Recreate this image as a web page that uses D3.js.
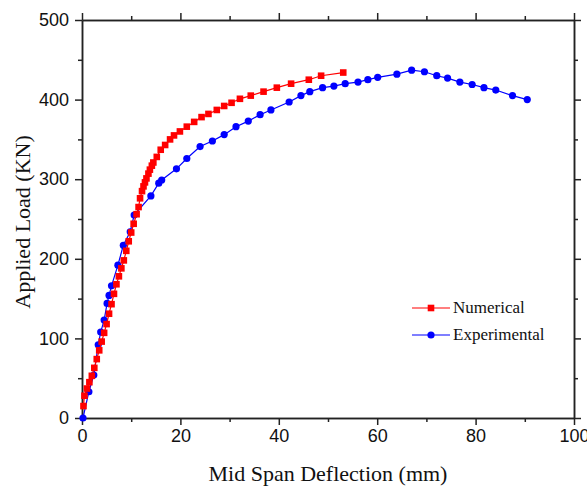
<!DOCTYPE html>
<head>
    <meta charset="utf-8">
    <script src="https://d3js.org/d3.v7.min.js"></script>
    <style>
        body { margin: 0; background: #fff; }
    </style>
</head>
<body>
<script>
    // Numerical (FE) curve: [deflection mm, load kN]
    const numerical = [
        [0.3, 15], [0.5, 28], [1.0, 37], [1.5, 45], [2.0, 53], [2.5, 63], [3.0, 74],
        [3.5, 85], [4.0, 96], [4.5, 107], [5.0, 118], [5.5, 131], [6.0, 143], [6.5, 156],
        [7.0, 168], [7.5, 178], [8.0, 188], [8.5, 198], [9.0, 210], [9.5, 222], [10.0, 233],
        [10.5, 244], [11.1, 256], [11.5, 265], [11.8, 276], [12.2, 285], [12.5, 291],
        [12.8, 296], [13.1, 301], [13.5, 307], [13.8, 312], [14.2, 317], [14.5, 321],
        [15.2, 328], [16.0, 337], [16.9, 343], [17.9, 350], [18.7, 355], [19.9, 360],
        [21.3, 366], [22.8, 372], [24.3, 378], [25.7, 382], [27.4, 387], [28.9, 392],
        [30.4, 396], [32.1, 401], [34.3, 405], [36.9, 410], [39.6, 415], [42.5, 420],
        [46.1, 425], [48.6, 430], [53.1, 434]
    ];

    // Experimental curve
    const experimental = [
        [0.2, 0], [1.4, 33], [2.4, 54], [3.3, 92], [3.8, 108], [4.5, 123], [5.1, 144],
        [5.5, 154], [6.0, 166], [7.3, 192], [8.4, 217], [9.8, 234], [10.6, 255], [14.0, 279],
        [15.6, 295], [16.2, 299], [19.2, 313], [21.3, 326], [24.0, 341], [26.5, 348],
        [28.9, 356], [31.3, 366], [33.8, 373], [36.2, 381], [38.4, 387], [42.1, 397],
        [44.5, 405], [46.3, 410], [48.9, 415], [51.2, 417], [53.5, 420], [56.1, 422],
        [58.1, 425], [60.1, 428], [64.0, 432], [67.0, 437], [69.6, 435], [72.1, 430],
        [74.3, 427], [76.8, 422], [79.3, 419], [81.7, 415], [84.1, 412], [87.5, 405],
        [90.5, 400]
    ];

    const xTicks = [0, 20, 40, 60, 80, 100];
    const yTicks = [0, 100, 200, 300, 400, 500];
    const xMinor = [10, 30, 50, 70, 90];
    const yMinor = [50, 150, 250, 350, 450];

    const width = 587, height = 486;
    const pLeft = 82, pRight = 574, pTop = 20, pBottom = 418;

    const x = d3.scaleLinear().domain([0, 100]).range([pLeft, pRight]);
    const y = d3.scaleLinear().domain([0, 500]).range([pBottom, pTop]);

    const svg = d3.select("body").append("svg")
        .attr("width", width)
        .attr("height", height);

    const axisColor = "#222";

    function styleAxis(g) {
        g.select(".domain").attr("stroke", axisColor).attr("stroke-width", 1.5);
        g.selectAll(".tick line").attr("stroke", axisColor).attr("stroke-width", 1.5);
        g.selectAll(".tick text")
            .attr("fill", "#111")
            .style("font-family", "Arial, 'Liberation Sans', sans-serif")
            .style("font-size", "18px");
    }

    // major + minor axes on all four sides
    svg.append("g").attr("transform", `translate(0,${pBottom})`)
        .call(d3.axisBottom(x).tickValues(xTicks).tickSize(7).tickPadding(4).tickSizeOuter(0))
        .call(styleAxis);
    svg.append("g").attr("transform", `translate(0,${pBottom})`)
        .call(d3.axisBottom(x).tickValues(xMinor).tickSize(4).tickFormat("").tickSizeOuter(0))
        .call(styleAxis);

    svg.append("g").attr("transform", `translate(${pLeft},0)`)
        .call(d3.axisLeft(y).tickValues(yTicks).tickSize(7).tickPadding(6).tickSizeOuter(0))
        .call(styleAxis);
    svg.append("g").attr("transform", `translate(${pLeft},0)`)
        .call(d3.axisLeft(y).tickValues(yMinor).tickSize(4).tickFormat("").tickSizeOuter(0))
        .call(styleAxis);

    svg.append("g").attr("transform", `translate(0,${pTop})`)
        .call(d3.axisTop(x).tickValues(xTicks).tickSize(7).tickFormat("").tickSizeOuter(0))
        .call(styleAxis);
    svg.append("g").attr("transform", `translate(0,${pTop})`)
        .call(d3.axisTop(x).tickValues(xMinor).tickSize(4).tickFormat("").tickSizeOuter(0))
        .call(styleAxis);

    svg.append("g").attr("transform", `translate(${pRight},0)`)
        .call(d3.axisRight(y).tickValues(yTicks).tickSize(7).tickFormat("").tickSizeOuter(0))
        .call(styleAxis);
    svg.append("g").attr("transform", `translate(${pRight},0)`)
        .call(d3.axisRight(y).tickValues(yMinor).tickSize(4).tickFormat("").tickSizeOuter(0))
        .call(styleAxis);

    // axis titles
    svg.append("text")
        .attr("x", (pLeft + pRight) / 2)
        .attr("y", 481)
        .attr("text-anchor", "middle")
        .style("font-family", "'Liberation Serif', 'Times New Roman', serif")
        .style("font-size", "22px")
        .attr("fill", "#111")
        .text("Mid Span Deflection (mm)");

    svg.append("text")
        .attr("transform", `translate(30,222) rotate(-90)`)
        .attr("text-anchor", "middle")
        .style("font-family", "'Liberation Serif', 'Times New Roman', serif")
        .style("font-size", "22px")
        .attr("fill", "#111")
        .text("Applied Load (KN)");

    const line = d3.line().x(d => x(d[0])).y(d => y(d[1]));

    // experimental
    svg.append("path").datum(experimental)
        .attr("d", line).attr("fill", "none")
        .attr("stroke", "#0000ff").attr("stroke-width", 1.2);
    svg.append("g").selectAll("circle").data(experimental).join("circle")
        .attr("cx", d => x(d[0])).attr("cy", d => y(d[1]))
        .attr("r", 3.6).attr("fill", "#0000ff");

    // numerical
    svg.append("path").datum(numerical)
        .attr("d", line).attr("fill", "none")
        .attr("stroke", "#ff0000").attr("stroke-width", 1.2);
    svg.append("g").selectAll("rect").data(numerical).join("rect")
        .attr("x", d => x(d[0]) - 3.3).attr("y", d => y(d[1]) - 3.3)
        .attr("width", 6.6).attr("height", 6.6).attr("fill", "#ff0000");

    // legend
    const legend = [
        { name: "Numerical", color: "#ff0000", shape: "square" },
        { name: "Experimental", color: "#0000ff", shape: "circle" }
    ];
    legend.forEach((l, i) => {
        const ly = 308 + i * 27;
        svg.append("line").attr("x1", 412).attr("x2", 450)
            .attr("y1", ly).attr("y2", ly)
            .attr("stroke", l.color).attr("stroke-width", 1.2);
        if (l.shape === "square") {
            svg.append("rect").attr("x", 431 - 3.3).attr("y", ly - 3.3)
                .attr("width", 6.6).attr("height", 6.6).attr("fill", l.color);
        } else {
            svg.append("circle").attr("cx", 431).attr("cy", ly).attr("r", 3.6).attr("fill", l.color);
        }
        svg.append("text").attr("x", 453).attr("y", ly + 5)
            .style("font-family", "'Liberation Serif', 'Times New Roman', serif")
            .style("font-size", "17px")
            .attr("fill", "#111")
            .text(l.name);
    });
</script>
</body>
